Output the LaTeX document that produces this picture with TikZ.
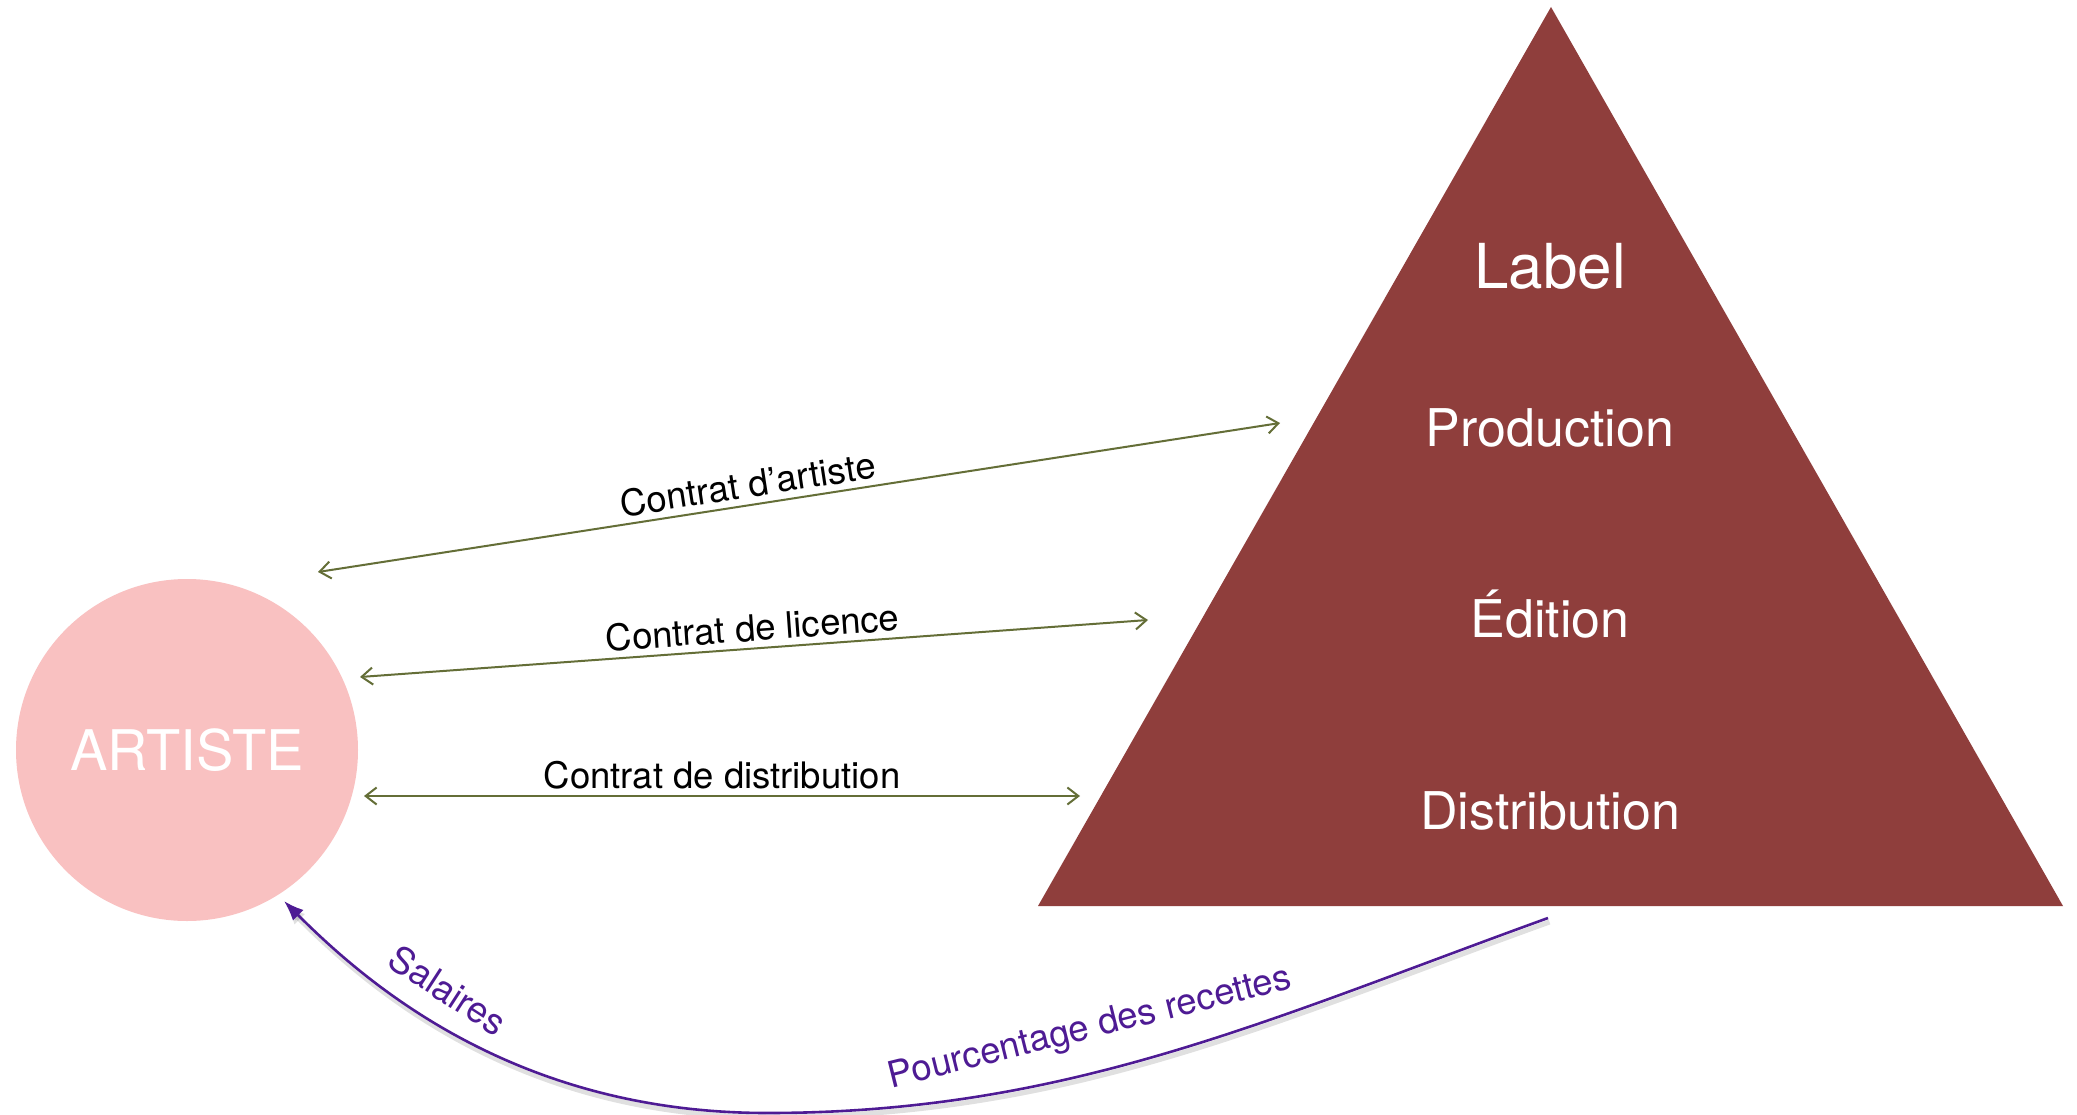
\documentclass[tikz,border=0pt]{standalone}
\usepackage{fontspec}
\setmainfont{TeX Gyre Heros}
\usetikzlibrary{arrows.meta}
\definecolor{tri}{RGB}{143,62,60}
\definecolor{pinkc}{RGB}{249,193,193}
\definecolor{olivec}{RGB}{100,110,55}
\definecolor{violetc}{RGB}{78,27,148}
\begin{document}
\begin{tikzpicture}[x=1pt,y=-1pt,
  contract/.style={olivec, line width=2pt,
    {Straight Barb[length=11pt,width=17pt]}-{Straight Barb[length=11pt,width=17pt]}},
  clabel/.style={font=\fontsize{36.5}{40}\selectfont, text=black, inner sep=6pt, sloped, above},
  pay/.style={violetc, line width=2.6pt, -{Latex[length=20pt,width=15pt]}},
  plabel/.style={font=\fontsize{36.5}{40}\selectfont, text=violetc, inner sep=0pt},
  tritext/.style={text=white, inner sep=0pt, anchor=base},
  midtext/.style={tritext, font=\fontsize{52}{56}\selectfont}
]
\useasboundingbox (0,0) rectangle (2077,1115);
\fill[white] (0,0) rectangle (2077,1115);

% triangle (label)
\coordinate (apex) at (1551,7);
\coordinate (bl) at (1038,906);
\coordinate (br) at (2063,906);
\fill[tri] (apex) -- (br) -- (bl) -- cycle;

\node[tritext, font=\fontsize{62}{66}\selectfont] (labeltxt) at (1550,288) {Label};
\node[midtext] (prod) at (1550,446) {Production};
\node[midtext] (edit) at (1550,637) {Édition};
\node[midtext] (dist) at (1550,829) {Distribution};

% artist circle
\node[circle, fill=pinkc, minimum size=342pt, inner sep=0pt, text=white,
      font=\fontsize{56}{60}\selectfont] (artiste) at (187,750) {ARTISTE};

% contracts
\coordinate (ca1) at (318,572);
\coordinate (ca2) at (1280,423);
\coordinate (cl1) at (360,677);
\coordinate (cl2) at (1148,620);
\coordinate (cd1) at (364,796);
\coordinate (cd2) at (1080,796);
\draw[contract] (ca1) -- node[clabel, pos=0.45] (lab1) {Contrat d’artiste} (ca2);
\draw[contract] (cl1) -- node[clabel, pos=0.5] (lab2) {Contrat de licence} (cl2);
\draw[contract] (cd1) -- node[clabel, pos=0.5] (lab3) {Contrat de distribution} (cd2);

% payments
\coordinate (ps) at (1548,918);
\coordinate (pb) at (767,1113);
\coordinate (pe) at (284,901);
\draw[pay, preaction={draw=black, opacity=0.12, line width=5pt,
      transform canvas={shift={(1.5pt,-4pt)}}}]
  (ps) .. controls (1266,1020) and (1067,1113) .. (pb)
       .. controls (517,1113) and (369,986) .. (pe);
\node[plabel, rotate=-33] (sal) at (448,990) {Salaires};
\node[plabel, rotate=14] (pct) at (1090,1029) {Pourcentage des recettes};
\end{tikzpicture}
\end{document}
